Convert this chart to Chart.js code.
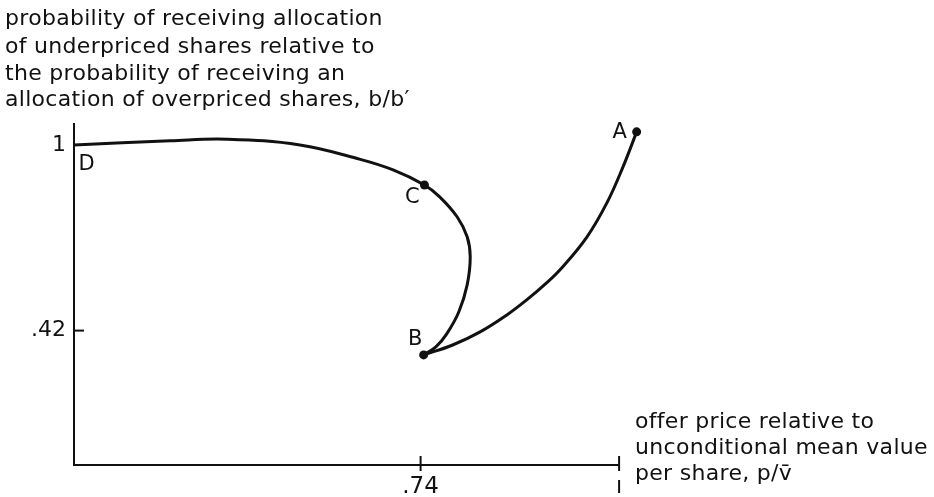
<!DOCTYPE html>
<html>
<head>
<meta charset="utf-8">
<script src="https://cdn.jsdelivr.net/npm/chart.js@4.4.1/dist/chart.umd.min.js"></script>
<style>
  html, body { margin: 0; padding: 0; background: #fff; }
  canvas { display: block; }
</style>
</head>
<body>
<canvas id="c" width="934" height="497"></canvas>
<script>
// ---------- data ----------
// curve D -> C -> B
const dcbX = [0.286, 0.412, 0.486, 0.582, 0.661, 0.704, 0.745,
              0.765, 0.788, 0.801, 0.805, 0.801, 0.790, 0.774, 0.760, 0.744];
const dcbY = [1.000, 1.013, 1.018, 1.000, 0.955, 0.922, 0.875,
              0.838, 0.775, 0.713, 0.650, 0.563, 0.478, 0.409, 0.369, 0.344];
// curve B -> A
const baX = [0.744, 0.782, 0.818, 0.853, 0.879, 0.905, 0.926, 0.958, 0.984, 1.005, 1.023];
const baY = [0.344, 0.375, 0.416, 0.469, 0.516, 0.569, 0.619, 0.713, 0.819, 0.931, 1.041];
// labelled points
const pointNames = ['D', 'C', 'B', 'A'];
const pointX = [0.286, 0.745, 0.744, 1.023];
const pointY = [1.000, 0.875, 0.344, 1.041];
const pointHasDot = [false, true, true, true];
// ticks
const yTickValues = [0.42, 1];
const yTickLabels = ['.42', '1'];
const xTickValues = [0.74, 1];
const xTickLabels = ['.74', ''];
// axis titles
const yTitleLines = [
  'probability of receiving allocation',
  'of underpriced shares relative to',
  'the probability of receiving an',
  'allocation of overpriced shares, b/b\u2032'
];
const xTitleLines = [
  'offer price relative to',
  'unconditional mean value',
  'per share, p/v\u0304'
];

// ---------- layout / style ----------
const INK = '#111';
const FONT = '"DejaVu Sans", "Liberation Sans", sans-serif';
const labelOffsets = [[12.5, 19.5], [-12, 12.5], [-8.5, -15.5], [-17, 0.5]];

const toXY = (xs, ys) => xs.map((v, i) => ({x: v, y: ys[i]}));
const dots = toXY(pointX, pointY).filter((p, i) => pointHasDot[i]);

const annot = {
  id: 'annot',
  beforeDraw(chart) {
    const ctx = chart.ctx;
    ctx.save();
    ctx.fillStyle = '#fff';
    ctx.fillRect(0, 0, chart.width, chart.height);
    ctx.restore();
  },
  afterDraw(chart) {
    const {ctx, scales: {x, y}} = chart;
    ctx.save();
    ctx.strokeStyle = INK;
    ctx.lineWidth = 2;
    ctx.lineCap = 'butt';
    // x axis line up to the last tick
    const xEnd = x.getPixelForValue(xTickValues[xTickValues.length - 1]);
    ctx.beginPath(); ctx.moveTo(x.left - 1, y.bottom); ctx.lineTo(xEnd, y.bottom); ctx.stroke();
    // inward y ticks
    yTickValues.forEach(v => {
      const py = y.getPixelForValue(v);
      ctx.beginPath(); ctx.moveTo(x.left, py); ctx.lineTo(x.left + 10, py); ctx.stroke();
    });
    // crossing x ticks
    xTickValues.forEach((v, i) => {
      const px = x.getPixelForValue(v);
      ctx.beginPath(); ctx.moveTo(px, y.bottom - 9); ctx.lineTo(px, y.bottom + 6); ctx.stroke();
      if (i === xTickValues.length - 1) {
        ctx.beginPath(); ctx.moveTo(px, y.bottom + 15); ctx.lineTo(px, y.bottom + 28); ctx.stroke();
      }
    });
    // point labels
    ctx.fillStyle = INK;
    ctx.font = '21px ' + FONT;
    ctx.textAlign = 'center';
    ctx.textBaseline = 'middle';
    pointNames.forEach((n, i) => {
      const px = x.getPixelForValue(pointX[i]) + labelOffsets[i][0];
      const py = y.getPixelForValue(pointY[i]) + labelOffsets[i][1];
      ctx.fillText(n, px, py);
    });
    // titles
    ctx.textAlign = 'left';
    ctx.textBaseline = 'alphabetic';
    try { ctx.letterSpacing = '0.3px'; } catch (e) {}
    ctx.font = '22px ' + FONT;
    const topBase = [25, 53, 80, 106];
    yTitleLines.forEach((t, i) => ctx.fillText(t, 5, topBase[i]));
    ctx.font = '22px ' + FONT;
    const rightBase = [428, 454, 480];
    xTitleLines.forEach((t, i) => ctx.fillText(t, 635, rightBase[i]));
    ctx.restore();
  }
};

new Chart(document.getElementById('c'), {
  type: 'scatter',
  data: {
    datasets: [
      { data: toXY(dcbX, dcbY), showLine: true, borderColor: INK, borderWidth: 3,
        pointRadius: 0, tension: 0.4, clip: false },
      { data: toXY(baX, baY), showLine: true, borderColor: INK, borderWidth: 3,
        pointRadius: 0, tension: 0.4, clip: false },
      { data: dots, showLine: false, pointRadius: 4.5, pointBackgroundColor: INK,
        pointBorderColor: INK, pointBorderWidth: 0, clip: false }
    ]
  },
  options: {
    responsive: false,
    animation: false,
    layout: { padding: { left: 0, top: 124, right: 292, bottom: 0 } },
    elements: { line: { capBezierPoints: false } },
    plugins: { legend: { display: false }, tooltip: { enabled: false }, title: { display: false } },
    scales: {
      x: {
        type: 'linear', min: 0.286, max: 1.03,
        afterFit: s => { s.height = 32; },
        afterBuildTicks: s => { s.ticks = xTickValues.map(v => ({value: v})); },
        ticks: {
          autoSkip: false, maxRotation: 0, padding: 8, color: INK,
          font: { family: FONT, size: 23 },
          callback: v => { const i = xTickValues.indexOf(v); return i >= 0 ? xTickLabels[i] : ''; }
        },
        grid: { display: true, drawOnChartArea: false, drawTicks: false, color: 'rgba(0,0,0,0)' },
        border: { display: false }
      },
      y: {
        type: 'linear', min: 0, max: 1.0656,
        afterFit: s => { s.width = 74; },
        afterBuildTicks: s => { s.ticks = yTickValues.map(v => ({value: v})); },
        ticks: {
          autoSkip: false, padding: 8, color: INK,
          font: { family: FONT, size: 22 },
          callback: v => { const i = yTickValues.indexOf(v); return i >= 0 ? yTickLabels[i] : ''; }
        },
        grid: { display: true, drawOnChartArea: false, drawTicks: false, color: 'rgba(0,0,0,0)' },
        border: { display: true, color: INK, width: 2 }
      }
    }
  },
  plugins: [annot]
});
</script>
</body>
</html>
